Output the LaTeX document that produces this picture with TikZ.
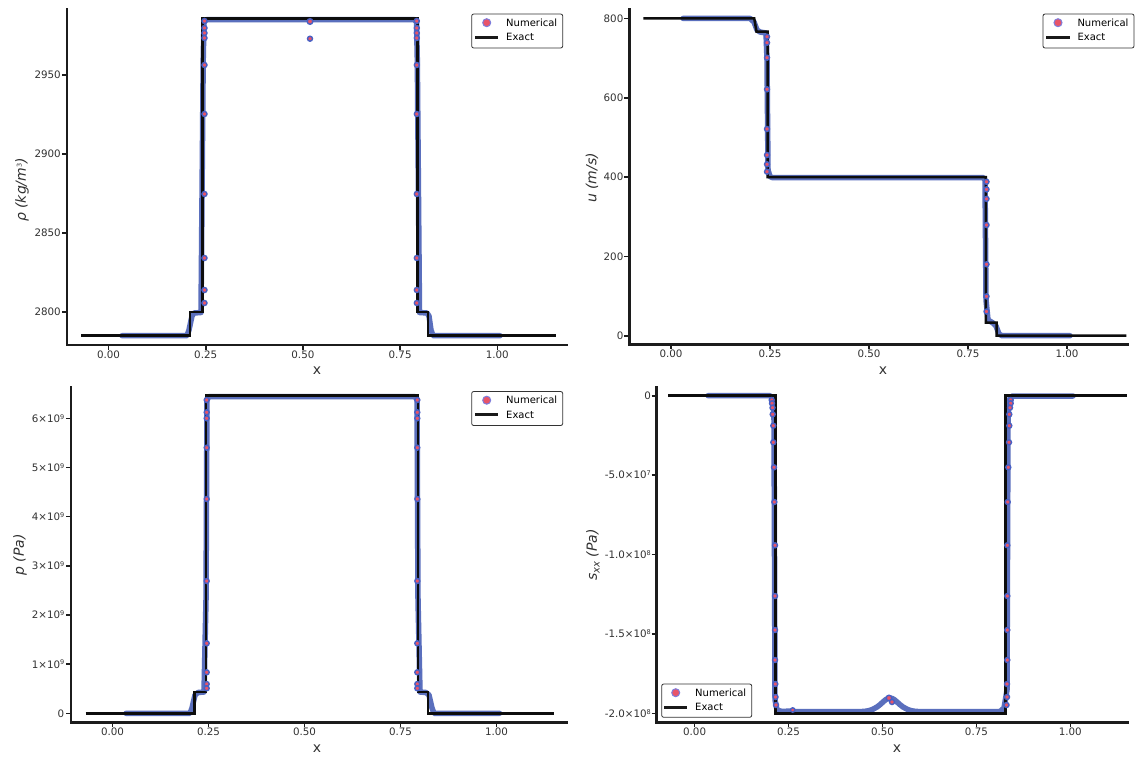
\documentclass[tikz,border=0pt]{standalone}
\usepackage{fontspec}
\setmainfont{DejaVu Sans}
\definecolor{numblue}{RGB}{62,86,178}
\definecolor{numred}{RGB}{232,84,104}
\definecolor{mkedge}{RGB}{72,96,196}
\definecolor{legedge}{RGB}{125,125,220}
\definecolor{spinec}{RGB}{28,28,28}
\definecolor{txtc}{RGB}{50,50,50}
\newcommand\pw[1]{\raisebox{0.55ex}{\fontsize{6.5}{6.5}\selectfont #1}}
\tikzset{
  spine/.style={line width=2.5pt, draw=spinec, line join=miter},
  tickmark/.style={line width=1.6pt, draw=spinec},
  ticklab/.style={inner sep=0pt, text=txtc, font=\fontsize{10.3}{12}\selectfont},
  axlab/.style={inner sep=0pt, text=txtc, font=\fontsize{14}{16}\selectfont},
  exact/.style={line width=2.5pt, draw=black!95, line join=miter},
  numline/.style={line width=5.5pt, draw=numblue, draw opacity=0.85, line join=round, line cap=round},
  mk/.style={fill=numred, draw=mkedge, line width=1.4pt},
  legbox/.style={draw=black!80, line width=0.8pt, rounded corners=2pt, fill=white},
  legmk/.style={fill=numred, draw=legedge, line width=1pt},
  legtxt/.style={inner sep=0pt, anchor=west, text=black, font=\fontsize{10}{12}\selectfont},
  legline/.style={line width=3pt, draw=black!90}
}
\begin{document}
\begin{tikzpicture}[x=1pt,y=-1pt]
\useasboundingbox[fill=white] (0,0) rectangle (1139,758);

% ================= TOP LEFT : rho =================
\draw[numline] (122,335.7) -- (187,335.7) -- (189,330) -- (192,316) -- (194,313) -- (201,312.5) -- (203.2,60) -- (204,22) -- (207,19.5) -- (414,19.5) -- (416.5,22) -- (417.3,60) -- (419.5,312.5) -- (427,313) -- (429,316) -- (431,330) -- (433,335.7) -- (500,335.7);
\draw[exact] (81.3,335.7) -- (190.1,335.7) -- (190.1,312) -- (202.6,312) -- (202.6,18.5) -- (417.6,18.5) -- (417.6,312) -- (428.1,312) -- (428.1,335.7) -- (555.6,335.7);
\foreach \yy in {21,28,33,38,65,114,194,258,290,303} {
  \filldraw[mk] (204.5,\yy) circle (2.5pt);
  \filldraw[mk] (416.8,\yy) circle (2.5pt);
}
\filldraw[mk] (310,21.5) circle (2.8pt);
\filldraw[mk] (310,38.7) circle (2.5pt);
\draw[spine] (67,8) -- (67,345) -- (568,345);
\foreach \yy/\lab in {312/2800,233/2850,154/2900,75/2950} {
  \draw[tickmark] (62,\yy) -- (67,\yy);
  \node[ticklab, anchor=east] at (61,\yy) {\lab};
}
\foreach \xx/\lab in {108.5/0.00,205.7/0.25,302.9/0.50,400.1/0.75,497.3/1.00} {
  \draw[tickmark] (\xx,345) -- (\xx,350);
  \node[ticklab, anchor=north] at (\xx,350.5) {\lab};
}
\node[axlab] at (317,371) {x};
\node[axlab, rotate=90] at (22,190) {\itshape ρ (kg/m\pw{\upshape 3})};
\draw[legbox] (471.7,14) rectangle (562.7,48);
\filldraw[legmk] (486.7,22.7) circle (4pt);
\node[legtxt] at (506,22.7) {Numerical};
\draw[legline] (475,37.3) -- (498.3,37.3);
\node[legtxt] at (506,37.3) {Exact};

% ================= TOP RIGHT : u =================
\draw[numline] (683,18.4) -- (750,18.4) -- (754,22) -- (757,30) -- (760,32) -- (766,33) -- (767,60) -- (768,170) -- (770,176.5) -- (772,177.5) -- (983,177.5) -- (985,180) -- (986,300) -- (988,320) -- (993,323) -- (996,326) -- (999,334) -- (1002,335.7) -- (1070,335.7);
\draw[exact] (643.3,18.4) -- (754.2,18.4) -- (756.5,31.5) -- (767.6,31.5) -- (767.6,177) -- (985.8,177) -- (985.8,322.6) -- (996.5,322.6) -- (996.5,335.7) -- (1126.4,335.7);
\foreach \yy in {36.7,42.7,57.7,89.3,129,155,164.3,171.7} {
  \filldraw[mk] (767,\yy) circle (2.5pt);
}
\foreach \yy in {181.8,189.4,198.9,225,264.3,296.4,311.5} {
  \filldraw[mk] (986.5,\yy) circle (2.5pt);
}
\draw[spine] (629.3,8) -- (629.3,344.3) -- (1129,344.3);
\foreach \yy/\lab in {335.7/0,256.4/200,177/400,97.7/600,18.4/800} {
  \draw[tickmark] (624.3,\yy) -- (629.3,\yy);
  \node[ticklab, anchor=east] at (623.5,\yy) {\lab};
}
\foreach \xx/\lab in {671/0.00,770/0.25,869/0.50,968/0.75,1067/1.00} {
  \draw[tickmark] (\xx,344.3) -- (\xx,349.3);
  \node[ticklab, anchor=north] at (\xx,350) {\lab};
}
\node[axlab] at (883,371) {x};
\node[axlab, rotate=90] at (592,178) {\itshape u (m/s)};
\draw[legbox] (1043,14) rectangle (1134,48);
\filldraw[legmk] (1058,22.7) circle (4pt);
\node[legtxt] at (1077.3,22.7) {Numerical};
\draw[legline] (1046.3,37.3) -- (1069.6,37.3);
\node[legtxt] at (1077.3,37.3) {Exact};

% ================= BOTTOM LEFT : p =================
\draw[numline] (126,713.3) -- (190,713.3) -- (192,708) -- (195,695) -- (198,692.5) -- (204,692) -- (206,600) -- (207,400) -- (209,396.5) -- (415,396.5) -- (417,400) -- (418,600) -- (420,692) -- (426,692.5) -- (429,695) -- (432,708) -- (434,713.3) -- (499.5,713.3);
\draw[exact] (85.6,713.3) -- (194.3,713.3) -- (194.3,692.2) -- (205.8,692.2) -- (205.8,395.7) -- (417.8,395.7) -- (417.8,692.2) -- (428.2,692.2) -- (428.2,713.3) -- (554.1,713.3);
\foreach \yy in {400,412.3,418.3,447.7,499,581,643.3,672.3,684,688.3} {
  \filldraw[mk] (206.7,\yy) circle (2.5pt);
  \filldraw[mk] (417.3,\yy) circle (2.5pt);
}
\draw[spine] (71,386) -- (71,722.3) -- (568,722.3);
\foreach \yy/\lab in {713.3/0,664.1/1×10\pw{9},615/2×10\pw{9},565.8/3×10\pw{9},516.6/4×10\pw{9},467.4/5×10\pw{9},418.3/6×10\pw{9}} {
  \draw[tickmark] (66,\yy) -- (71,\yy);
  \node[ticklab, anchor=east] at (64.5,\yy) {\lab};
}
\foreach \xx/\lab in {112.5/0.00,208.5/0.25,304.5/0.50,400.5/0.75,496.5/1.00} {
  \draw[tickmark] (\xx,722.3) -- (\xx,727.3);
  \node[ticklab, anchor=north] at (\xx,728) {\lab};
}
\node[axlab] at (317,749) {x};
\node[axlab, rotate=90] at (20,555) {\itshape p (Pa)};
\draw[legbox] (471.7,391.5) rectangle (562.7,425.5);
\filldraw[legmk] (486.7,400.2) circle (4pt);
\node[legtxt] at (506,400.2) {Numerical};
\draw[legline] (475,414.8) -- (498.3,414.8);
\node[legtxt] at (506,414.8) {Exact};

% ================= BOTTOM RIGHT : sxx =================
\draw[numline] (708,395.7) -- (770,395.7) -- (773,399) -- (774,420) -- (775,700) -- (777,710) -- (782,711.5) -- (790,711) -- (795,711.5) -- (862,711.5) .. controls (880,711) and (883,698) .. (890,698) .. controls (897,698) and (900,711) .. (918,711.5) -- (1000,711.5) -- (1004,708) -- (1007,690) -- (1008,420) -- (1009,400) -- (1012,396) -- (1073,396);
\draw[exact] (668.3,395.7) -- (775.4,395.7) -- (775.4,713.3) -- (1005.7,713.3) -- (1005.7,395.7) -- (1126.7,395.7);
\foreach \yy/\xl/\xr in {400/771.7/1010.7,403.3/772/1010.7,407.7/772.5/1010,414.3/772.7/1009.3,425.7/773.3/1009.3,442.3/773.3/1009,467.3/774/1008.3,502/774.3/1007.7,545.3/775/1007.3,596/775/1007.3,630/775/1007.3,660/775/1007.3,684/775.3/1007,697/775.5/1007,705/776/1006.5} {
  \filldraw[mk] (\xl,\yy) circle (2.5pt);
  \filldraw[mk] (\xr,\yy) circle (2.5pt);
}
\filldraw[mk] (889,698) circle (2.8pt);
\filldraw[mk] (892,702) circle (2.5pt);
\filldraw[mk] (792.7,710) circle (2.2pt);
\draw[spine] (656.7,386) -- (656.7,722.3) -- (1129,722.3);
\foreach \yy/\lab in {395.7/0,475.1/-5.0×10\pw{7},554.5/-1.0×10\pw{8},633.9/-1.5×10\pw{8},713.3/-2.0×10\pw{8}} {
  \draw[tickmark] (651.7,\yy) -- (656.7,\yy);
  \node[ticklab, anchor=east] at (651,\yy) {\lab};
}
\foreach \xx/\lab in {694.6/0.00,788.5/0.25,882.5/0.50,976.4/0.75,1070.3/1.00} {
  \draw[tickmark] (\xx,722.3) -- (\xx,727.3);
  \node[ticklab, anchor=north] at (\xx,728) {\lab};
}
\node[axlab] at (897,749) {x};
\node[axlab, rotate=90] at (593,555) {\itshape s\raisebox{-0.35ex}{\fontsize{10}{10}\selectfont xx} (Pa)};
\draw[legbox] (661.7,684) rectangle (751.7,717.3);
\filldraw[legmk] (675.7,692.7) circle (4pt);
\node[legtxt] at (695,692.7) {Numerical};
\draw[legline] (664,707.3) -- (686.7,707.3);
\node[legtxt] at (695,707.3) {Exact};
\end{tikzpicture}
\end{document}
